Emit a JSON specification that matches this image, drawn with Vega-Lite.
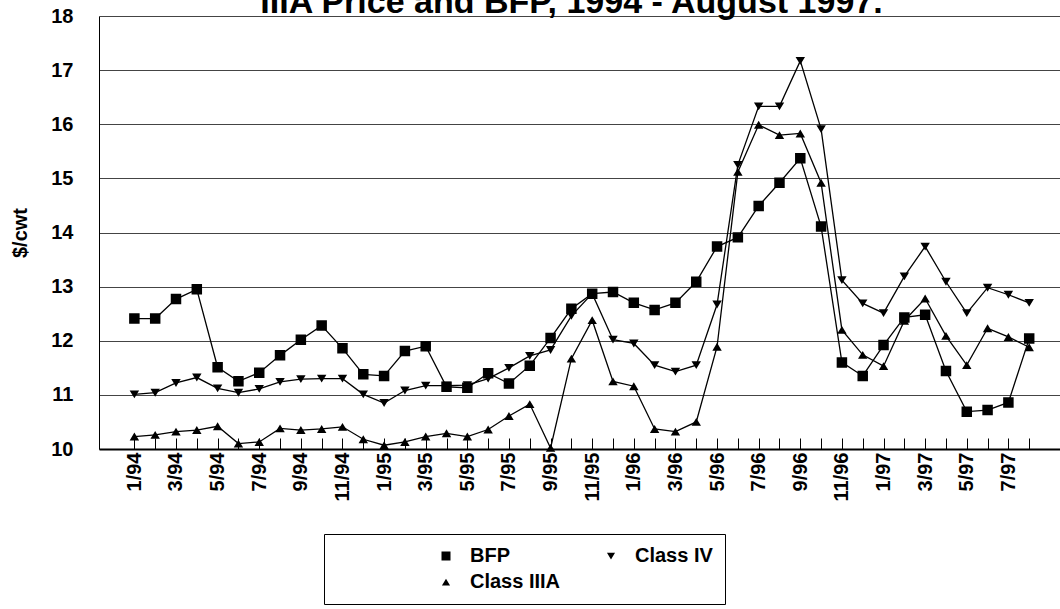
{
  "$schema": "https://vega.github.io/schema/vega-lite/v6.json",
  "width": 961,
  "height": 433,
  "autosize": {"type": "none"},
  "padding": {"left": 99, "top": 16, "right": 0, "bottom": 160},
  "background": "white",
  "title": {
    "text": "IIIA Price and BFP, 1994 - August 1997.",
    "font": "Liberation Sans",
    "fontSize": 34,
    "fontWeight": "bold",
    "color": "black",
    "anchor": "middle",
    "frame": "group",
    "baseline": "alphabetic",
    "offset": -41,
    "dx": -8
  },
  "data": {
    "values": [
      {"month": "1/94", "i": 0, "BFP": 12.41, "Class IV": 11.01, "Class IIIA": 10.23},
      {"month": "2/94", "i": 1, "BFP": 12.41, "Class IV": 11.04, "Class IIIA": 10.26},
      {"month": "3/94", "i": 2, "BFP": 12.77, "Class IV": 11.22, "Class IIIA": 10.32},
      {"month": "4/94", "i": 3, "BFP": 12.95, "Class IV": 11.32, "Class IIIA": 10.35},
      {"month": "5/94", "i": 4, "BFP": 11.51, "Class IV": 11.12, "Class IIIA": 10.42},
      {"month": "6/94", "i": 5, "BFP": 11.25, "Class IV": 11.04, "Class IIIA": 10.10},
      {"month": "7/94", "i": 6, "BFP": 11.41, "Class IV": 11.11, "Class IIIA": 10.13},
      {"month": "8/94", "i": 7, "BFP": 11.73, "Class IV": 11.24, "Class IIIA": 10.38},
      {"month": "9/94", "i": 8, "BFP": 12.02, "Class IV": 11.29, "Class IIIA": 10.35},
      {"month": "10/94", "i": 9, "BFP": 12.28, "Class IV": 11.30, "Class IIIA": 10.37},
      {"month": "11/94", "i": 10, "BFP": 11.86, "Class IV": 11.30, "Class IIIA": 10.41},
      {"month": "12/94", "i": 11, "BFP": 11.38, "Class IV": 11.01, "Class IIIA": 10.18},
      {"month": "1/95", "i": 12, "BFP": 11.35, "Class IV": 10.85, "Class IIIA": 10.07},
      {"month": "2/95", "i": 13, "BFP": 11.81, "Class IV": 11.08, "Class IIIA": 10.13},
      {"month": "3/95", "i": 14, "BFP": 11.90, "Class IV": 11.17, "Class IIIA": 10.23},
      {"month": "4/95", "i": 15, "BFP": 11.15, "Class IV": 11.17, "Class IIIA": 10.29},
      {"month": "5/95", "i": 16, "BFP": 11.13, "Class IV": 11.18, "Class IIIA": 10.23},
      {"month": "6/95", "i": 17, "BFP": 11.40, "Class IV": 11.30, "Class IIIA": 10.36},
      {"month": "7/95", "i": 18, "BFP": 11.21, "Class IV": 11.50, "Class IIIA": 10.61},
      {"month": "8/95", "i": 19, "BFP": 11.54, "Class IV": 11.72, "Class IIIA": 10.83},
      {"month": "9/95", "i": 20, "BFP": 12.05, "Class IV": 11.83, "Class IIIA": 10.02},
      {"month": "10/95", "i": 21, "BFP": 12.59, "Class IV": 12.46, "Class IIIA": 11.67},
      {"month": "11/95", "i": 22, "BFP": 12.87, "Class IV": 12.87, "Class IIIA": 12.38},
      {"month": "12/95", "i": 23, "BFP": 12.90, "Class IV": 12.02, "Class IIIA": 11.25},
      {"month": "1/96", "i": 24, "BFP": 12.70, "Class IV": 11.95, "Class IIIA": 11.16},
      {"month": "2/96", "i": 25, "BFP": 12.57, "Class IV": 11.55, "Class IIIA": 10.37},
      {"month": "3/96", "i": 26, "BFP": 12.70, "Class IV": 11.43, "Class IIIA": 10.32},
      {"month": "4/96", "i": 27, "BFP": 13.09, "Class IV": 11.55, "Class IIIA": 10.50},
      {"month": "5/96", "i": 28, "BFP": 13.74, "Class IV": 12.67, "Class IIIA": 11.89},
      {"month": "6/96", "i": 29, "BFP": 13.91, "Class IV": 15.25, "Class IIIA": 15.12},
      {"month": "7/96", "i": 30, "BFP": 14.49, "Class IV": 16.33, "Class IIIA": 15.99},
      {"month": "8/96", "i": 31, "BFP": 14.92, "Class IV": 16.33, "Class IIIA": 15.80},
      {"month": "9/96", "i": 32, "BFP": 15.37, "Class IV": 17.17, "Class IIIA": 15.83},
      {"month": "10/96", "i": 33, "BFP": 14.11, "Class IV": 15.91, "Class IIIA": 14.92},
      {"month": "11/96", "i": 34, "BFP": 11.60, "Class IV": 13.12, "Class IIIA": 12.20},
      {"month": "12/96", "i": 35, "BFP": 11.35, "Class IV": 12.69, "Class IIIA": 11.74},
      {"month": "1/97", "i": 36, "BFP": 11.92, "Class IV": 12.51, "Class IIIA": 11.53},
      {"month": "2/97", "i": 37, "BFP": 12.43, "Class IV": 13.19, "Class IIIA": 12.37},
      {"month": "3/97", "i": 38, "BFP": 12.48, "Class IV": 13.74, "Class IIIA": 12.78},
      {"month": "4/97", "i": 39, "BFP": 11.44, "Class IV": 13.09, "Class IIIA": 12.09},
      {"month": "5/97", "i": 40, "BFP": 10.69, "Class IV": 12.51, "Class IIIA": 11.55},
      {"month": "6/97", "i": 41, "BFP": 10.72, "Class IV": 12.98, "Class IIIA": 12.23},
      {"month": "7/97", "i": 42, "BFP": 10.86, "Class IV": 12.85, "Class IIIA": 12.07},
      {"month": "8/97", "i": 43, "BFP": 12.04, "Class IV": 12.70, "Class IIIA": 11.88}
    ]
  },
  "transform": [{"fold": ["BFP", "Class IV", "Class IIIA"], "as": ["series", "price"]}],
  "encoding": {
    "x": {
      "field": "i",
      "type": "quantitative",
      "scale": {"domain": [-1.7, 44.48], "nice": false, "zero": false},
      "axis": {
        "values": [0,1,2,3,4,5,6,7,8,9,10,11,12,13,14,15,16,17,18,19,20,21,22,23,24,25,26,27,28,29,30,31,32,33,34,35,36,37,38,39,40,41,42,43],
        "title": null,
        "labelExpr": "datum.value % 2 == 0 && datum.value <= 42 ? ((datum.value % 12) + 1) + '/' + (94 + floor(datum.value / 12)) : ''",
        "labelAngle": -90,
        "labelFont": "Liberation Sans",
        "labelFontSize": 20,
        "labelFontWeight": "bold",
        "labelColor": "black",
        "labelPadding": 14,
        "labelOverlap": false,
        "labelBound": false,
        "labelFlush": false,
        "tickSize": -11,
        "tickColor": "black",
        "tickWidth": 1,
        "domainColor": "black",
        "domainWidth": 2,
        "grid": false
      }
    },
    "y": {
      "field": "price",
      "type": "quantitative",
      "scale": {"domain": [10, 18], "nice": false, "zero": false},
      "axis": {
        "values": [10, 11, 12, 13, 14, 15, 16, 17, 18],
        "title": "$/cwt",
        "titleFont": "Liberation Sans",
        "titleFontSize": 20,
        "titleFontWeight": "bold",
        "titleColor": "black",
        "titlePadding": 20,
        "labelFont": "Liberation Sans",
        "labelFontSize": 20,
        "labelFontWeight": "bold",
        "labelColor": "black",
        "labelPadding": 26,
        "ticks": false,
        "tickSize": 0,
        "domainColor": "black",
        "domainWidth": 1,
        "grid": true,
        "gridColor": "#444444",
        "gridWidth": 1
      }
    }
  },
  "layer": [
    {
      "mark": {"type": "line", "color": "black", "strokeWidth": 1.3},
      "encoding": {"detail": {"field": "series", "type": "nominal"}}
    },
    {
      "mark": {"type": "point", "filled": true, "color": "black", "opacity": 1, "size": 110},
      "encoding": {
        "shape": {
          "field": "series",
          "type": "nominal",
          "scale": {
            "domain": ["BFP", "Class IV", "Class IIIA"],
            "range": [
              "M-2,0L2,0M-1,-1L1,-1L1,1L-1,1Z",
              "M-2,0L2,0M-0.9,-0.75L0.9,-0.75L0,0.75Z",
              "M-2,0L2,0M-0.9,0.75L0.9,0.75L0,-0.75Z"
            ]
          },
          "legend": {
            "title": " ",
            "titleOrient": "left",
            "titlePadding": 100,
            "titleFontSize": 20,
            "orient": "none",
            "direction": "horizontal",
            "legendX": 225,
            "legendY": 518,
            "columns": 2,
            "columnPadding": 38,
            "rowPadding": 6,
            "padding": 12,
            "strokeColor": "black",
            "fillColor": "white",
            "symbolSize": 81,
            "symbolStrokeColor": "black",
            "symbolStrokeWidth": 1.5,
            "symbolFillColor": "black",
            "labelFont": "Liberation Sans",
            "labelFontSize": 20,
            "labelFontWeight": "bold",
            "labelColor": "black",
            "labelOffset": 14,
            "labelLimit": 300,
            "encode": {
              "symbols": {
                "update": {
                  "size": {"value": 81},
                  "stroke": {"value": "black"},
                  "strokeWidth": {"value": 1.5},
                  "fill": {"value": "black"},
                  "opacity": {"value": 1}
                }
              }
            }
          }
        }
      }
    }
  ],
  "config": {"view": {"stroke": null}}
}
